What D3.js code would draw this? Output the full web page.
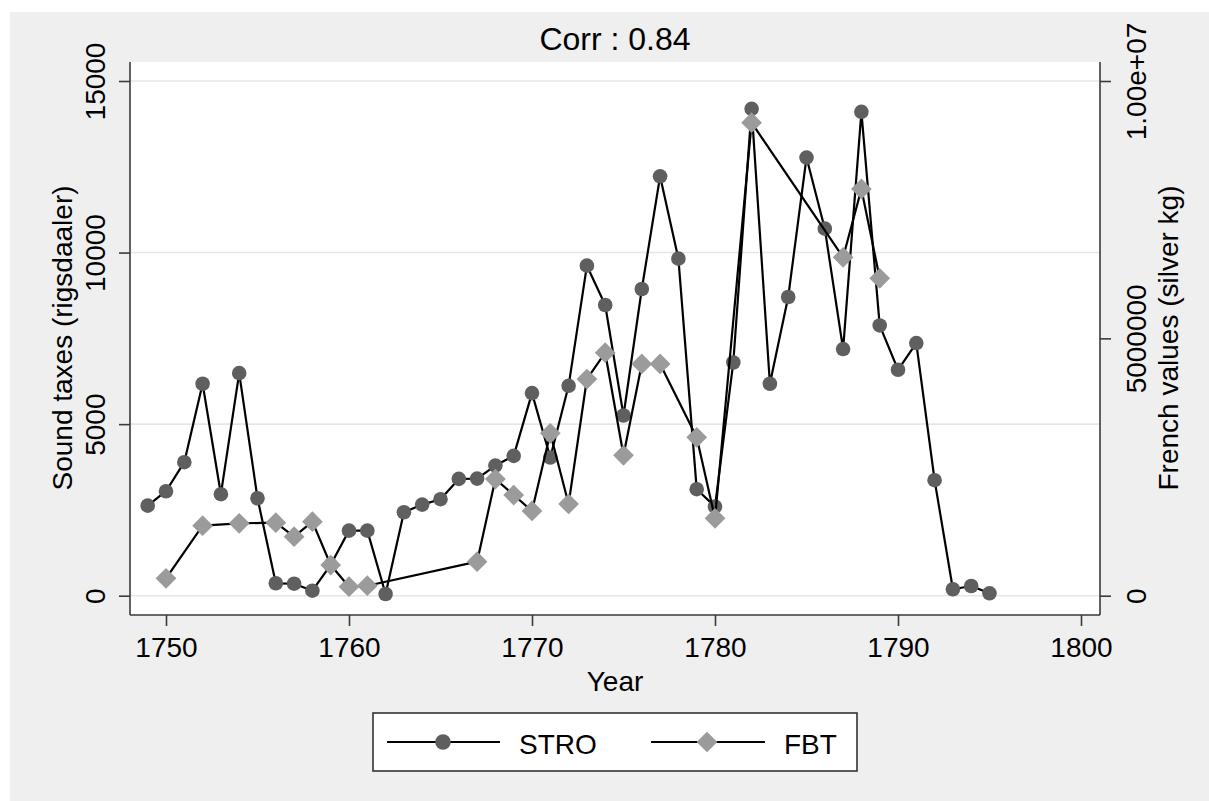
<!DOCTYPE html>
<html>
<head>
<meta charset="utf-8">
<script src="https://cdn.jsdelivr.net/npm/d3@7"></script>
<style>
  html, body { margin: 0; padding: 0; background: #ffffff; }
  svg { display: block; }
  text { font-family: "Liberation Sans", Arial, Helvetica, sans-serif; fill: #000; }
</style>
</head>
<body>
<svg id="chart" width="1209" height="801"></svg>
<script>
// ---- data ----
const stroYears = [1749,1750,1751,1752,1753,1754,1755,1756,1757,1758,1759,1760,1761,1762,1763,1764,1765,1766,1767,1768,1769,1770,1771,1772,1773,1774,1775,1776,1777,1778,1779,1780,1781,1782,1783,1784,1785,1786,1787,1788,1789,1790,1791,1792,1793,1794,1795];
const stroValues = [2625,3045,3891,6176,2958,6488,2841,362,350,146,900,1896,1896,50,2433,2655,2812,3404,3413,3792,4075,5904,4026,6117,9618,8471,5251,8938,12223,9822,3104,2596,6797,14189,6176,8705,12768,10697,7188,14102,7876,6584,7363,3366,187,283,70];

const fbtYears = [1750,1752,1754,1756,1757,1758,1759,1760,1761,1767,1768,1769,1770,1771,1772,1773,1774,1775,1776,1777,1779,1780,1782,1787,1788,1789];
const fbtValues = [338000,1360000,1407000,1418000,1146000,1438000,596000,175000,194000,661000,2267000,1956000,1646000,3155000,1782000,4210000,4721000,2728000,4502000,4502000,3078000,1504000,9190000,6575000,7902000,6167000];

const xTicks = [1750,1760,1770,1780,1790,1800];
const leftTicks = [0,5000,10000,15000];
const rightTicks = [0,5000000,10000000];
const rightTickLabels = ["0","5000000","1.00e+07"];

const titleText = "Corr : 0.84";
const xTitle = "Year";
const leftTitle = "Sound taxes (rigsdaaler)";
const rightTitle = "French values (silver kg)";
const seriesNames = ["STRO","FBT"];

// ---- layout ----
const svg = d3.select("#chart");
const frame = {left:130, right:1100, top:62, bottom:615};
const circleColor = "#5f5f5f", diamondColor = "#9b9b9b";

svg.append("rect").attr("x",10).attr("y",12).attr("width",1199).attr("height",789).attr("fill","#efefef");
svg.append("rect").attr("x",frame.left).attr("y",frame.top)
  .attr("width",frame.right-frame.left).attr("height",frame.bottom-frame.top).attr("fill","#ffffff");

const x = d3.scaleLinear().domain([1750,1800]).range([166,1081]);
const yL = d3.scaleLinear().domain([0,15000]).range([595.7,81]);
const yR = d3.scaleLinear().domain([0,10000000]).range([595.7,81]);

// gridlines
svg.append("g").selectAll("line").data(leftTicks).join("line")
  .attr("x1",frame.left).attr("x2",frame.right)
  .attr("y1",d=>yL(d)).attr("y2",d=>yL(d))
  .attr("stroke","#e6e6e6").attr("stroke-width",1.6);

// axes
const axisColor = "#3a3a3a";
const gx = svg.append("g").attr("transform",`translate(0,${frame.bottom})`)
  .call(d3.axisBottom(x).tickValues(xTicks).tickFormat(d3.format("d")).tickSize(11).tickPadding(9));
const gl = svg.append("g").attr("transform",`translate(${frame.left},0)`)
  .call(d3.axisLeft(yL).tickValues(leftTicks).tickFormat(d3.format("d")).tickSize(11));
const gr = svg.append("g").attr("transform",`translate(${frame.right},0)`)
  .call(d3.axisRight(yR).tickValues(rightTicks).tickFormat((d,i)=>rightTickLabels[i]).tickSize(11));

[gx,gl,gr].forEach(g=>{
  g.select(".domain").remove();
  g.selectAll(".tick line").attr("stroke",axisColor).attr("stroke-width",1.6);
  g.selectAll(".tick text").attr("font-size",28).attr("fill","#000")
   .attr("font-family",'"Liberation Sans", Arial, sans-serif');
});
gx.selectAll(".tick text").attr("dy",null).attr("y",null)
  .attr("transform","translate(0,42)");
gl.selectAll(".tick text").attr("x",null).attr("dy",null)
  .attr("text-anchor","middle").attr("transform","translate(-25,0) rotate(-90)");
gr.selectAll(".tick text").attr("x",null).attr("dy",null)
  .attr("text-anchor","middle").attr("transform","translate(46,0) rotate(-90)");

// axis lines
svg.append("line").attr("x1",frame.left).attr("x2",frame.right).attr("y1",frame.bottom).attr("y2",frame.bottom)
  .attr("stroke",axisColor).attr("stroke-width",1.6);
svg.append("line").attr("x1",frame.left).attr("x2",frame.left).attr("y1",frame.top).attr("y2",frame.bottom)
  .attr("stroke",axisColor).attr("stroke-width",1.6);
svg.append("line").attr("x1",frame.right).attr("x2",frame.right).attr("y1",frame.top).attr("y2",frame.bottom)
  .attr("stroke",axisColor).attr("stroke-width",1.6);

// titles
svg.append("text").attr("x",615).attr("y",50).attr("text-anchor","middle").attr("font-size",32).text(titleText);
svg.append("text").attr("x",615).attr("y",691).attr("text-anchor","middle").attr("font-size",28).text(xTitle);
svg.append("text").attr("transform","translate(72,338) rotate(-90)").attr("text-anchor","middle").attr("font-size",28).text(leftTitle);
svg.append("text").attr("transform","translate(1178,338) rotate(-90)").attr("text-anchor","middle").attr("font-size",28).text(rightTitle);

// series
const stro = stroYears.map((yr,i)=>({x:yr, y:stroValues[i]}));
const fbt = fbtYears.map((yr,i)=>({x:yr, y:fbtValues[i]}));

const lineL = d3.line().x(d=>x(d.x)).y(d=>yL(d.y));
const lineR = d3.line().x(d=>x(d.x)).y(d=>yR(d.y));
const diamond = d3.symbol().type(d3.symbolSquare).size(215);

svg.append("path").datum(stro).attr("d",lineL).attr("fill","none").attr("stroke","#000").attr("stroke-width",2.2).attr("stroke-linejoin","round");
svg.append("g").selectAll("circle").data(stro).join("circle")
  .attr("cx",d=>x(d.x)).attr("cy",d=>yL(d.y)).attr("r",7.3).attr("fill",circleColor);

svg.append("path").datum(fbt).attr("d",lineR).attr("fill","none").attr("stroke","#000").attr("stroke-width",2.2).attr("stroke-linejoin","round");
svg.append("g").selectAll("path").data(fbt).join("path")
  .attr("d",diamond).attr("transform",d=>`translate(${x(d.x)},${yR(d.y)}) rotate(45)`).attr("fill",diamondColor);

// legend
const lg = svg.append("g");
lg.append("rect").attr("x",373).attr("y",713).attr("width",484).attr("height",58)
  .attr("fill","#fff").attr("stroke","#333").attr("stroke-width",1.6);
lg.append("line").attr("x1",387).attr("x2",500).attr("y1",742).attr("y2",742).attr("stroke","#000").attr("stroke-width",2.2);
lg.append("circle").attr("cx",443).attr("cy",742).attr("r",7.8).attr("fill",circleColor);
lg.append("text").attr("x",519).attr("y",754).attr("font-size",28).text(seriesNames[0]);
lg.append("line").attr("x1",651).attr("x2",765).attr("y1",742).attr("y2",742).attr("stroke","#000").attr("stroke-width",2.2);
lg.append("path").attr("d",diamond).attr("transform","translate(707,742) rotate(45)").attr("fill",diamondColor);
lg.append("text").attr("x",784).attr("y",754).attr("font-size",28).text(seriesNames[1]);
</script>
</body>
</html>
